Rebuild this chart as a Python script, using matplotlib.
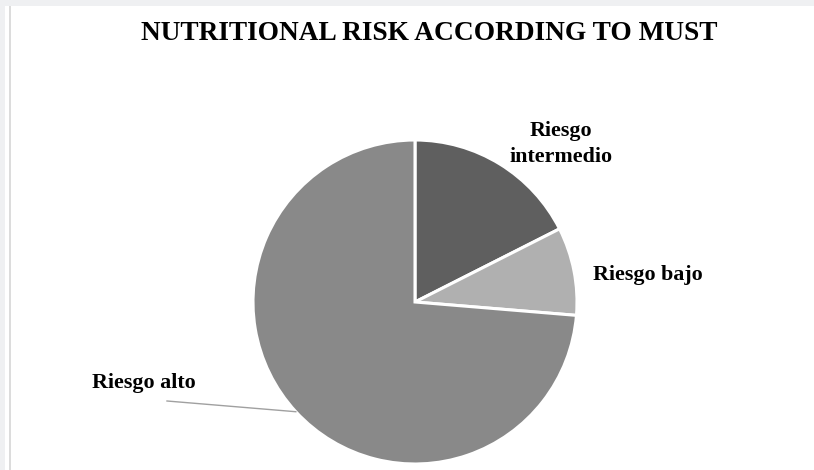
import numpy as np
import matplotlib
matplotlib.use("Agg")
import matplotlib.pyplot as plt
from matplotlib.patches import Rectangle

categories = ["Riesgo intermedio", "Riesgo bajo", "Riesgo alto"]
counts = [20, 10, 84]
colors = ["#5f5f5f", "#b0b0b0", "#898989"]
title = "NUTRITIONAL RISK ACCORDING TO MUST"

W, H = 814, 470
fig = plt.figure(figsize=(W / 100, H / 100), dpi=100)
fig.patch.set_facecolor("white")
ax = fig.add_axes([0, 0, 1, 1])

# page frame
ax.add_patch(Rectangle((0, H - 6), W, 6, color="#eff0f2", lw=0, zorder=0))
ax.add_patch(Rectangle((0, 0), 4.5, H, color="#eff0f2", lw=0, zorder=0))
ax.add_patch(Rectangle((9, 0), 2, H - 6, color="#dcdcdc", lw=0, zorder=0))

cx, cy, r = 415, H - 302, 162
wedges, _ = ax.pie(counts, colors=colors, startangle=90, counterclock=False,
                   center=(cx, cy), radius=r, frame=True,
                   wedgeprops=dict(edgecolor="white", linewidth=2.2))
ax.set_xlim(0, W)
ax.set_ylim(0, H)
ax.set_aspect("equal")
ax.axis("off")

font = dict(family="Liberation Serif", fontweight="bold", color="black")
ax.text(429, H - 34, title, ha="center", va="center", fontsize=19.7, **font)

ax.text(561, H - 144, "Riesgo\nintermedio", ha="center", va="center",
        fontsize=15.8, linespacing=1.4, **font)
ax.text(593, H - 275, "Riesgo bajo", ha="left", va="center", fontsize=15.8, **font)
ax.text(92, H - 383, "Riesgo alto", ha="left", va="center", fontsize=15.8, **font)

# leader line for the large slice
w = wedges[2]
mid = np.deg2rad((w.theta1 + w.theta2) / 2)
ex, ey = cx + r * np.cos(mid), cy + r * np.sin(mid)
ax.plot([167, ex], [H - 401, ey], color="#a0a0a0", lw=1.0, zorder=1)

fig.savefig("out.png", dpi=100, facecolor="white")
